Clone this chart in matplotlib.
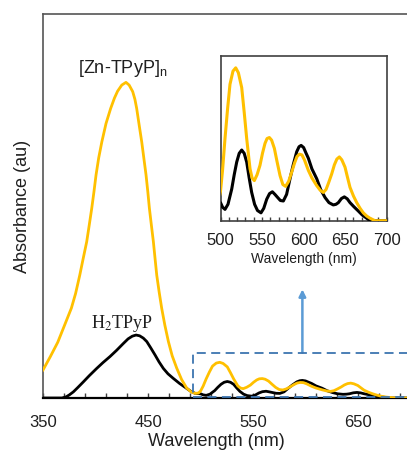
import matplotlib
matplotlib.use("Agg")
from matplotlib import pyplot as plt
from matplotlib.patches import Rectangle

plt.rcParams['font.family'] = ['Liberation Sans', 'DejaVu Sans']
plt.rcParams['mathtext.fontset'] = 'custom'
plt.rcParams['mathtext.rm'] = 'Liberation Sans'
plt.rcParams['mathtext.it'] = 'Liberation Sans:italic'

# [Zn-TPyP]n spectrum
zn_wl = [350, 357, 364, 370, 377, 381, 385, 388, 391.6, 394, 396.4, 398.5,
         400.5, 403, 406, 410, 414.4, 418, 421, 425, 429, 432, 435.4, 437.5,
         439.2, 441.5, 444, 446, 448.1, 449.8, 451.3, 453.2, 455.1, 456.7,
         458.3, 460.6, 463, 466, 469.4, 473, 477.3, 482, 486.8, 491, 495, 498,
         500, 502.5, 505.4, 508.5, 511.4, 515, 518.3, 521.5, 525.5, 528.5,
         531.5, 535.5, 538, 540.7, 544, 547.5, 550.5, 553.5, 556, 558.8,
         561.5, 564.8, 568, 571.6, 575, 578.4, 582, 585.7, 589, 592, 595, 598,
         601, 605.7, 610, 615.8, 620, 623.7, 627, 630, 633.8, 637, 640, 643,
         646, 649.8, 652.5, 655.8, 660, 663.9, 668, 671.8, 676, 679.9, 686,
         700]
zn_abs = [0.073, 0.108, 0.145, 0.186, 0.234, 0.272, 0.32, 0.36, 0.407, 0.45,
          0.494, 0.537, 0.581, 0.625, 0.667, 0.715, 0.754, 0.781, 0.799,
          0.815, 0.822, 0.815, 0.798, 0.778, 0.754, 0.712, 0.667, 0.625,
          0.581, 0.537, 0.494, 0.45, 0.407, 0.363, 0.32, 0.276, 0.234, 0.19,
          0.147, 0.11, 0.078, 0.048, 0.026, 0.016, 0.012, 0.013,
          0.018, 0.031, 0.050, 0.068, 0.083, 0.091, 0.093, 0.090, 0.081,
          0.066, 0.050, 0.0316, 0.026, 0.0244, 0.028, 0.0337, 0.041, 0.047,
          0.050, 0.0506, 0.049, 0.044, 0.036, 0.0275, 0.022, 0.0209, 0.024,
          0.0296, 0.035, 0.039, 0.0405, 0.040, 0.037, 0.0306, 0.026, 0.0213,
          0.0185, 0.0172, 0.019, 0.023, 0.0285, 0.034, 0.0375, 0.0388, 0.037,
          0.0326, 0.027, 0.0203, 0.015, 0.011, 0.0075, 0.0048, 0.0028,
          0.0015, 0.0, 0.0]

# H2TPyP spectrum
h2_wl = [350, 368, 372, 375, 378.9, 383, 388.4, 394, 401.1, 407, 413.8, 420,
         426.5, 431, 435, 438.6, 442, 445.5, 448.8, 452.5, 456.7, 460.5,
         464.6, 469, 474.1, 480, 486.8, 491, 495,
         500, 502.5, 505.4, 509, 513.5, 516.5, 519.5, 522.5, 525.5, 528.5,
         531.5, 534.5, 537.5, 541, 544.5, 548.7, 552, 555.6, 559, 562.4,
         565.5, 568.8, 572, 575.6, 579.5, 583.6, 587.5, 591.7, 594.5, 597,
         600, 603, 605.7, 610, 615.8, 620.5, 625.8, 630.5, 635.7, 639, 641.8,
         645.5, 649, 652.5, 655.8, 660.5, 665.8, 670.5, 675.9, 680, 700]
h2_abs = [0.0, 0.0, 0.003, 0.008, 0.016, 0.027, 0.042, 0.058, 0.077, 0.092,
          0.108, 0.124, 0.142, 0.154, 0.161, 0.164, 0.162, 0.156, 0.147,
          0.131, 0.112, 0.094, 0.077, 0.063, 0.051, 0.038, 0.025, 0.017, 0.012,
          0.011, 0.0082, 0.0069, 0.010, 0.0193, 0.028, 0.0357, 0.041, 0.043,
          0.041, 0.0357, 0.026, 0.0172, 0.010, 0.0062, 0.0048, 0.0075, 0.0131,
          0.0165, 0.0176, 0.016, 0.0141, 0.0123, 0.012, 0.016, 0.0255, 0.034,
          0.042, 0.045, 0.0458, 0.0445, 0.041, 0.038, 0.0315, 0.0255, 0.019,
          0.0141, 0.011, 0.0096, 0.010, 0.011, 0.0135, 0.0145, 0.0133, 0.011,
          0.0085, 0.0059, 0.0035, 0.0015, 0.0, 0.0]

main_major = [350, 450, 550, 650]
inset_major = [500, 550, 600, 650, 700]

gold = '#FFC000'
txt = '#1f1f1f'

fig = plt.figure(figsize=(4.07, 4.51), dpi=100)
ax = fig.add_axes([0.1057, 0.1175, 0.903, 0.8514])

ax.plot(h2_wl, h2_abs, color='black', lw=2.0, zorder=3,
        solid_joinstyle='round')
ax.plot(zn_wl, zn_abs, color=gold, lw=2.0, zorder=4, solid_joinstyle='round')

ax.set_xlim(350, 700)
ax.set_ylim(0, 1.0)
ax.set_xticks(main_major)
ax.set_xticks([w for w in range(350, 700, 20)], minor=True)
ax.set_yticks([])
ax.tick_params(axis='x', which='both', direction='in', length=3.5, width=1,
               color='#404040', labelsize=12, pad=12.5, labelcolor=txt)
for s in ['left', 'top', 'right']:
    ax.spines[s].set_color('#555555')
    ax.spines[s].set_linewidth(1.2)
ax.spines['bottom'].set_color('black')
ax.spines['bottom'].set_linewidth(1.6)
ax.set_xlabel('Wavelength (nm)', fontsize=13, color=txt)
ax.xaxis.set_label_coords(0.473, -0.090)
ax.set_ylabel('Absorbance (au)', fontsize=13, color=txt, labelpad=8.5)

ax.text(426.2, 0.847, r'[Zn-TPyP]$_\mathregular{n}$', fontsize=13, color=txt,
        ha='center', va='baseline')
ax.text(425, 0.1815, r'H$_\mathrm{2}$TPyP', fontsize=13, color=txt,
        ha='center', va='baseline', family='Liberation Serif',
        math_fontfamily='stix')

# dashed zoom box and arrow
ax.add_patch(Rectangle((493, 0.003), 215, 0.115, fill=False, ls=(0, (5, 3)),
                       lw=1.3, edgecolor='#3d75b0', zorder=5, clip_on=False))
ax.annotate('', xy=(597, 0.283), xytext=(597, 0.118),
            arrowprops=dict(arrowstyle='-|>', color='#5b9bd5', lw=1.8,
                            mutation_scale=10, shrinkA=0, shrinkB=0))

# inset
axi = fig.add_axes([0.5418, 0.5106, 0.4084, 0.3645])
axi.plot(h2_wl, h2_abs, color='black', lw=2.2, zorder=3,
         solid_joinstyle='round')
axi.plot(zn_wl, zn_abs, color=gold, lw=2.2, zorder=4, solid_joinstyle='round')
axi.set_xlim(500, 700)
axi.set_ylim(0, 0.1)
axi.set_xticks(inset_major)
axi.set_xticks(range(500, 701, 10), minor=True)
axi.set_yticks([])
axi.tick_params(axis='x', which='both', direction='in', length=3, width=1,
                color='#404040', labelsize=12, pad=9, labelcolor=txt)
for s in axi.spines.values():
    s.set_color('#404040')
    s.set_linewidth(1.2)
axi.set_xlabel('Wavelength (nm)', fontsize=10, color=txt, labelpad=2.5)

fig.savefig('out.png', dpi=100)
